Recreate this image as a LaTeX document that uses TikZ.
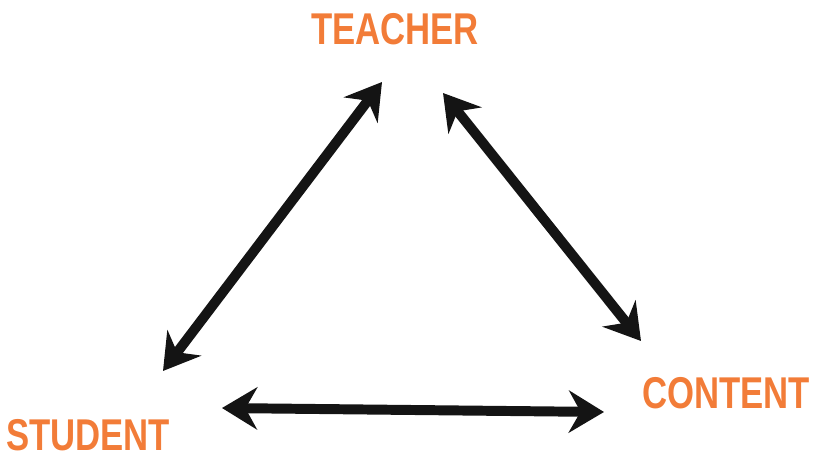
\documentclass[tikz,border=0pt]{standalone}
\usepackage{fontspec}
\setmainfont{Liberation Sans}
\usetikzlibrary{arrows.meta, positioning}
\definecolor{labelorange}{RGB}{242,124,56}

\begin{document}
\begin{tikzpicture}[
        x=0.03cm, y=-0.03cm,
        label/.style={text=labelorange, font=\fontsize{38}{38}\selectfont\bfseries, xscale=0.78, transform shape, inner sep=0pt},
        arrow/.style={{Stealth[length=30pt, width=36pt, inset=10pt]}-{Stealth[length=30pt, width=36pt, inset=10pt]}, line width=8.5pt, line cap=round, black!92}
    ]
        \useasboundingbox (0,0) rectangle (815,459);
        % Nodes
        \node[label] (teacher) at (395,29) {TEACHER};
        \node[label] (student) at (88,435) {STUDENT};
        \node[label] (content) at (726,393) {CONTENT};
        % Arrow ends
        \coordinate (tl) at (382,82);
        \coordinate (tr) at (443,93);
        \coordinate (sl) at (163,371);
        \coordinate (sr) at (222,408);
        \coordinate (cl) at (604,412);
        \coordinate (ct) at (641,341);
        % Arrows
        \draw[arrow] (sl) -- (tl);
        \draw[arrow] (tr) -- (ct);
        \draw[arrow] (sr) -- (cl);
    \end{tikzpicture}
\end{document}
